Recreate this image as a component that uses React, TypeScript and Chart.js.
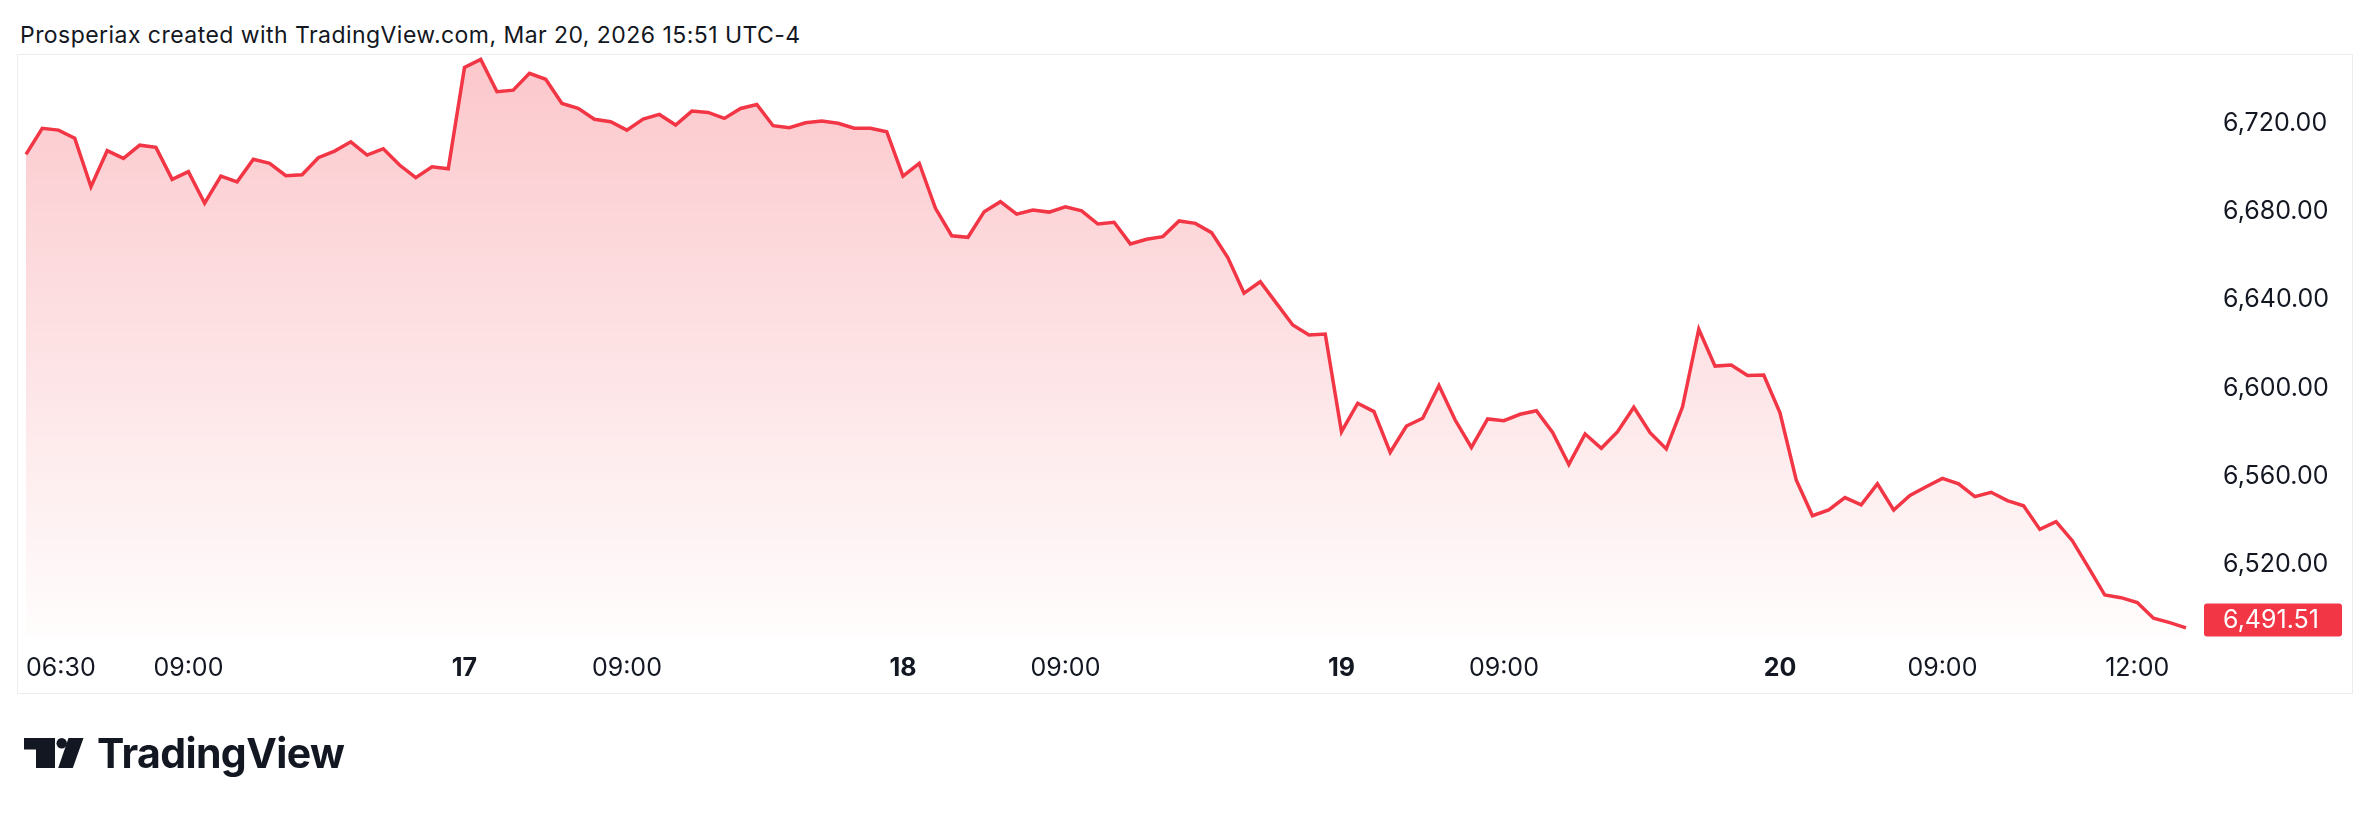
import React, { useEffect, useRef } from 'react';
import { Chart, registerables } from 'chart.js';

Chart.register(...registerables);

const TITLE = 'Prosperiax created with TradingView.com, Mar 20, 2026 15:51 UTC-4';
const BRAND = 'TradingView';

// Sessions (day of month) and the 15-minute bars of each session
const sessionDays = ['16', '17', '18', '19', '20'];
const sessionBarTimes = [
  '06:30', '06:45', '07:00', '07:15', '07:30', '07:45', '08:00', '08:15', '08:30',
  '08:45', '09:00', '09:15', '09:30', '09:45', '10:00', '10:15', '10:30', '10:45',
  '11:00', '11:15', '11:30', '11:45', '12:00', '12:15', '12:30', '12:45', '13:00',
];
const lastSessionBars = 26;

// Close values, one per bar
const closes = [
  6705.8, 6717.6, 6716.8, 6713.1, 6691.2, 6707.5, 6704.0, 6710.0, 6709.0, 6694.5,
  6698.0, 6683.7, 6696.0, 6693.4, 6703.6, 6701.8, 6696.2, 6696.6, 6704.3, 6707.3,
  6711.5, 6705.5, 6708.4, 6701.0, 6695.3, 6700.2, 6699.3,
  6745.2, 6748.8, 6734.2, 6734.9, 6742.5, 6739.8, 6728.9, 6726.7, 6721.7, 6720.6,
  6716.8, 6721.8, 6723.9, 6719.1, 6725.4, 6724.8, 6722.1, 6726.6, 6728.4, 6718.8,
  6717.9, 6720.1, 6720.9, 6719.9, 6717.7, 6717.6, 6716.1,
  6696.0, 6701.8, 6681.4, 6669.0, 6668.3, 6679.9, 6684.4, 6678.8, 6680.6, 6679.7,
  6682.1, 6680.3, 6674.3, 6675.1, 6665.3, 6667.4, 6668.6, 6675.7, 6674.6, 6670.4,
  6659.1, 6643.0, 6648.2, 6638.4, 6628.6, 6624.1, 6624.5,
  6580.3, 6593.2, 6589.4, 6571.0, 6582.9, 6586.4, 6601.2, 6585.6, 6573.2, 6586.1,
  6585.3, 6588.2, 6589.8, 6580.0, 6565.5, 6579.3, 6572.8, 6580.3, 6591.4, 6579.9,
  6572.5, 6591.6, 6626.7, 6610.0, 6610.5, 6605.8, 6606.0,
  6588.9, 6558.5, 6542.3, 6544.9, 6550.5, 6547.2, 6556.7, 6544.9, 6551.5, 6555.4,
  6559.2, 6556.7, 6550.9, 6552.9, 6549.1, 6546.8, 6536.1, 6539.6, 6531.0, 6518.8,
  6506.4, 6505.2, 6503.0, 6495.9, 6493.9, 6491.51,
];

// Time-axis labels shown, keyed by bar
const xTickLabels: Record<string, string> = {
  '16 06:30': '06:30',
  '16 09:00': '09:00',
  '17 06:30': '17',
  '17 09:00': '09:00',
  '18 06:30': '18',
  '18 09:00': '09:00',
  '19 06:30': '19',
  '19 09:00': '09:00',
  '20 06:30': '20',
  '20 09:00': '09:00',
  '20 12:00': '12:00',
};
const boldTickLabels = ['17', '18', '19', '20'];

// Price-axis ticks and range
const yTicks = [6520, 6560, 6600, 6640, 6680, 6720];
const yMin = 6487.4;
const yMax = 6750.8;

const categories: string[] = [];
sessionDays.forEach((d, di) => {
  const n = di === sessionDays.length - 1 ? lastSessionBars : sessionBarTimes.length;
  for (let j = 0; j < n; j++) categories.push(`${d} ${sessionBarTimes[j]}`);
});

const lastPrice = closes[closes.length - 1];
const FONT = 'Inter, "Noto Sans", Roboto, sans-serif';
const TEXT = '#131722';
const RED = '#F23645';
const AXIS_SIZE = 25;
const fmt = (v: number) =>
  v.toLocaleString('en-US', { minimumFractionDigits: 2, maximumFractionDigits: 2 });

const priceLabelPlugin = {
  id: 'priceLabel',
  afterDraw(chart: any) {
    const { ctx, chartArea, scales } = chart;
    const y = scales.y.getPixelForValue(lastPrice) - 8;
    const x = chartArea.right + 18;
    const w = 138;
    const h = 33;
    ctx.save();
    ctx.fillStyle = RED;
    ctx.beginPath();
    (ctx as any).roundRect(x, y - h / 2, w, h, 3);
    ctx.fill();
    ctx.fillStyle = '#ffffff';
    ctx.font = `${AXIS_SIZE}px ${FONT}`;
    ctx.textBaseline = 'middle';
    ctx.textAlign = 'left';
    ctx.fillText(fmt(lastPrice), chartArea.right + 37, y + 1);
    ctx.restore();
  },
};

function PriceChart() {
  const ref = useRef<HTMLCanvasElement | null>(null);
  useEffect(() => {
    if (!ref.current) return;
    const lastIdx = categories.length - 1;
    const chart = new Chart(ref.current, {
      type: 'line',
      data: {
        labels: categories,
        datasets: [
          {
            data: closes,
            borderColor: RED,
            borderWidth: 3.5,
            pointRadius: 0,
            tension: 0,
            fill: 'start',
            backgroundColor: (c: any) => {
              const { chart: ch } = c;
              const area = ch.chartArea;
              if (!area) return 'rgba(242,54,69,0.15)';
              const g = ch.ctx.createLinearGradient(0, area.top, 0, area.bottom);
              g.addColorStop(0, 'rgba(242,54,69,0.28)');
              g.addColorStop(1, 'rgba(242,54,69,0.01)');
              return g;
            },
          },
        ],
      },
      options: {
        animation: false,
        responsive: false,
        maintainAspectRatio: false,
        layout: { padding: { left: 8, top: 0, right: 0, bottom: 0 } },
        plugins: { legend: { display: false }, tooltip: { enabled: false } },
        scales: {
          x: {
            type: 'category',
            offset: false,
            grid: { display: false, drawTicks: false },
            border: { display: false },
            ticks: {
              autoSkip: false,
              maxRotation: 0,
              minRotation: 0,
              align: 'inner',
              padding: 16,
              color: TEXT,
              callback: (_v: any, idx: number) => {
                const lbl = xTickLabels[categories[idx]];
                if (lbl !== undefined) return lbl;
                return idx === lastIdx ? ' ' : null;
              },
              font: (ctx: any) => {
                const lbl = ctx.tick ? ctx.tick.label : '';
                return {
                  family: FONT,
                  size: AXIS_SIZE,
                  weight: boldTickLabels.includes(lbl) ? 700 : 400,
                };
              },
            },
            afterFit: (s: any) => {
              s.height = 56;
              s.paddingLeft = 0;
              s.paddingRight = 0;
            },
          },
          y: {
            type: 'linear',
            position: 'right',
            min: yMin,
            max: yMax,
            grid: { display: false, drawTicks: false },
            border: { display: false },
            ticks: {
              padding: 37,
              color: TEXT,
              font: { family: FONT, size: AXIS_SIZE },
              callback: (v: any) => fmt(Number(v)),
            },
            afterBuildTicks: (s: any) => {
              s.ticks = yTicks.map((v) => ({ value: v }));
            },
            afterFit: (s: any) => {
              s.width = 166;
              s.paddingTop = 0;
              s.paddingBottom = 0;
            },
          },
        },
      },
      plugins: [priceLabelPlugin],
    } as any);
    return () => chart.destroy();
  }, []);
  return <canvas ref={ref} width={2334} height={638} style={{ width: 2334, height: 638, display: 'block' }} />;
}

export default function App() {
  return (
    <div
      style={{
        position: 'absolute',
        left: 0,
        top: 0,
        width: 2372,
        height: 814,
        background: '#ffffff',
        overflow: 'hidden',
        fontFamily: FONT,
      }}
    >
      <div
        style={{
          position: 'absolute',
          left: 20,
          top: 24,
          fontSize: 23,
          lineHeight: '23px',
          letterSpacing: '0.45px',
          color: TEXT,
          whiteSpace: 'nowrap',
        }}
      >
        {TITLE}
      </div>
      <div
        style={{
          position: 'absolute',
          left: 17,
          top: 54,
          width: 2334,
          height: 638,
          border: '1px solid #ebedf0',
        }}
      >
        <PriceChart />
      </div>
      <svg
        width={2372}
        height={814}
        style={{ position: 'absolute', left: 0, top: 0, pointerEvents: 'none' }}
      >
        <path d="M24 738 H55 V768 H36 V749.5 H24 Z" fill={TEXT} />
        <circle cx={61.7} cy={743.2} r={5.2} fill={TEXT} />
        <path d="M68.5 738 H83.5 L72.8 768 H58.2 Z" fill={TEXT} />
      </svg>
      <div
        style={{
          position: 'absolute',
          left: 97,
          top: 733,
          fontSize: 41,
          lineHeight: '41px',
          fontWeight: 700,
          letterSpacing: '-0.6px',
          color: TEXT,
          whiteSpace: 'nowrap',
        }}
      >
        {BRAND}
      </div>
    </div>
  );
}
